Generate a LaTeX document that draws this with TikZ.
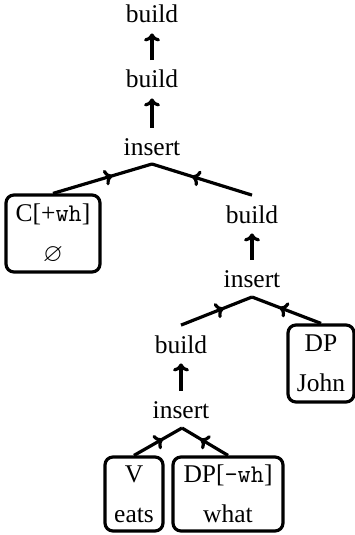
\documentclass[tikz,border=0pt]{standalone}
\usepackage{amssymb}
\usepackage{fontspec}
\setmainfont{Liberation Serif}
\usetikzlibrary{arrows.meta,decorations.markings}
\tikzset{
  lbl/.style={inner xsep=0pt, inner ysep=10pt, font=\fontsize{25.5}{30}\selectfont, anchor=base},
  boxnode/.style={draw, line width=3.2pt, rounded corners=8pt, inner sep=0pt, align=center,
    font=\fontsize{25.5}{40}\selectfont},
  tipstyle/.tip={To[length=8pt,width=16pt]},
  edge/.style={line width=3.2pt, postaction={decorate},
    decoration={markings, mark=at position 0.6 with {\arrow{tipstyle}}}},
  uparrow/.style={line width=3.2pt, -tipstyle}
}
\begin{document}
\begin{tikzpicture}[x=1pt,y=-1pt]
\useasboundingbox (0,0) rectangle (355,535);
% labels
\node[lbl] (b1) at (152,23) {build};
\node[lbl] (b2) at (152,88) {build};
\node[lbl] (i1) at (152,155) {insert};
\node[lbl] (b3) at (252,223) {build};
\node[lbl] (i2) at (252,287) {insert};
\node[lbl] (b4) at (181,353) {build};
\node[lbl] (i3) at (181,418) {insert};
% boxes
\node[boxnode, minimum width=94pt, minimum height=77pt] (cbox) at (53,233.5) {C[+\texttt{wh}]\\$\varnothing$};
\node[boxnode, minimum width=66pt, minimum height=77pt] (john) at (321,363.5) {DP\\John};
\node[boxnode, minimum width=58pt, minimum height=74pt] (v) at (134,494) {V\\eats};
\node[boxnode, minimum width=110pt, minimum height=74pt] (what) at (228,494) {DP[\texttt{-wh}]\\what};
% apexes
\coordinate (a1) at (152,164);
\coordinate (a2) at (252,297);
\coordinate (a3) at (182,428);
% vertical arrows
\draw[uparrow] (b2) -- (b1);
\draw[uparrow] (i1) -- (b2);
\draw[uparrow] (i2) -- (b3);
\draw[uparrow] (i3) -- (b4);
% branching edges
\draw[edge] (cbox.north) -- (a1);
\draw[edge] (b3.north) -- (a1);
\draw[edge] (b4.north) -- (a2);
\draw[edge] (john.north) -- (a2);
\draw[edge] (v.north) -- (a3);
\draw[edge] (what.north) -- (a3);
\end{tikzpicture}
\end{document}
